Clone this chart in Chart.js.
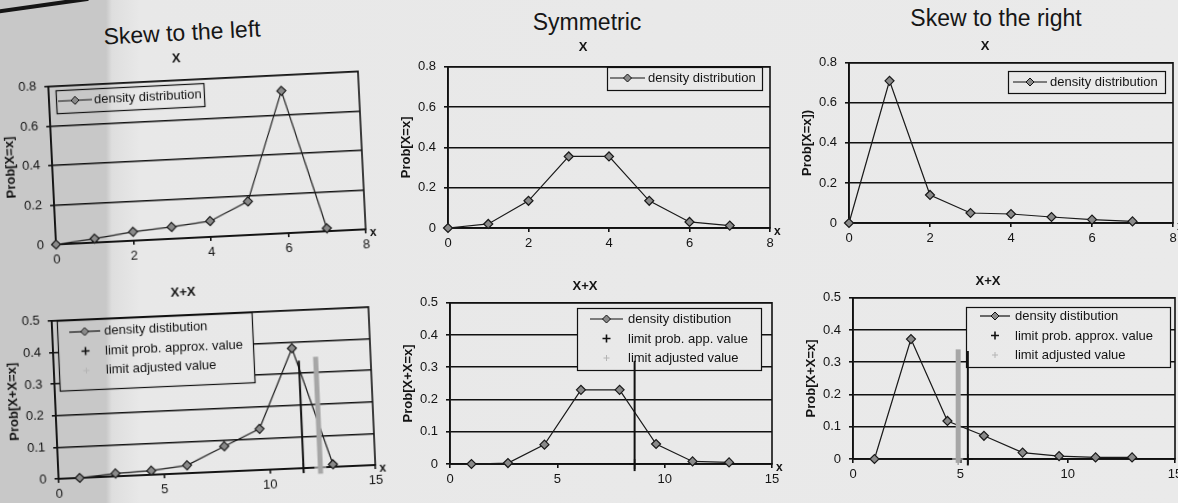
<!DOCTYPE html>
<html><head><meta charset="utf-8">
<script src="https://cdn.jsdelivr.net/npm/chart.js@4.4.1/dist/chart.umd.min.js"></script>
<style>
html,body{margin:0;padding:0;width:1178px;height:503px;overflow:hidden;}
body{position:relative;background:linear-gradient(to right,#c8c8c8 0px,#c8c8c8 106px,#dedede 112px,#e8e8e8 140px,#eaeaea 100%);font-family:"Liberation Sans",Arial,Helvetica,sans-serif;}
.title{position:absolute;font-size:23px;color:#161616;white-space:nowrap;}
.panel{position:absolute;}
.edge{position:absolute;left:-6px;top:10px;width:96px;height:4px;background:#151515;transform:rotate(-8deg);transform-origin:0 0;border-radius:2px;}
</style></head><body>
<div class="edge"></div>
<div class="title" style="left:182px;top:33px;transform:translate(-50%,-50%) rotate(-3deg)">Skew to the left</div>
<div class="title" style="left:587px;top:22px;transform:translate(-50%,-50%)">Symmetric</div>
<div class="title" style="left:996px;top:18px;transform:translate(-50%,-50%)">Skew to the right</div>
<div class="panel" id="p0"><canvas id="c0"></canvas></div>
<div class="panel" id="p1"><canvas id="c1"></canvas></div>
<div class="panel" id="p2"><canvas id="c2"></canvas></div>
<div class="panel" id="p3"><canvas id="c3"></canvas></div>
<div class="panel" id="p4"><canvas id="c4"></canvas></div>
<div class="panel" id="p5"><canvas id="c5"></canvas></div>
<script>
// ---------------- data ----------------
const xCounts = [0, 1, 2, 3, 4, 5, 6, 7];
const xSums   = [1, 2.7, 4.4, 6.1, 7.9, 9.6, 11.3, 13.0];

const probSkewLeft   = [0, 0.02, 0.045, 0.06, 0.08, 0.17, 0.72, 0.015];
const probSymmetric  = [0, 0.02, 0.135, 0.355, 0.355, 0.135, 0.03, 0.012];
const probSkewRight  = [0, 0.71, 0.14, 0.05, 0.045, 0.03, 0.017, 0.008];

const sumSkewLeft    = [0, 0.009, 0.013, 0.025, 0.08, 0.13, 0.38, 0.008];
const sumSymmetric   = [0, 0.003, 0.06, 0.23, 0.23, 0.062, 0.008, 0.005];
const sumSkewRight   = [0, 0.372, 0.118, 0.072, 0.02, 0.009, 0.005, 0.005];

// limit markers (left, symmetric, right panels of the X+X row)
const limitApproxX   = [11.6, 8.6, 5.35];
const limitApproxTop = [0.34, 0.32, 0.335];
const limitApproxLow = [-0.015, -0.022, -0.02];
const limitAdjX      = [12.4, null, 4.9];
const limitAdjTop    = [0.35, null, 0.34];
const limitAdjLow    = [-0.02, null, -0.012];

// axis ranges [min, max, step]
const topXAxis = [0, 8, 2];
const topYAxis = [0, 0.8, 0.2];
const sumXAxis = [0, 15, 5];
const sumYAxis = [0, 0.5, 0.1];

const rowTitles  = ['X', 'X+X'];
const yTitlesTop = ['Prob[X=x]', 'Prob[X=x]', 'Prob[X=x])'];
const yTitleSum  = 'Prob[X+X=x]';
const densityLabelTop = 'density distribution';
const densityLabelSum = 'density distibution';
const approxLabels = ['limit prob. approx. value', 'limit prob. app. value', 'limit prob. approx. value'];
const adjLabel = 'limit adjusted value';

// ---------------- styling / layout ----------------
Chart.defaults.font.family = '"Liberation Sans", Arial, Helvetica, sans-serif';
Chart.defaults.color = '#141414';
Chart.defaults.animation = false;
const INK = '#111111';
const GRID_W = 1.6;
const Y_W = 52, X_H = 26, PAD_R = 16;

const layoutRects = [
  {l: 52,  t: 79,  r: 362,  b: 237, gap: 21, rot: -2.8},
  {l: 448, t: 67,  r: 770,  b: 228, gap: 19, rot: 0},
  {l: 849, t: 63,  r: 1173, b: 223, gap: 16, rot: 0},
  {l: 55,  t: 314, r: 372,  b: 472, gap: 22, rot: -2.5},
  {l: 450, t: 303, r: 772,  b: 464, gap: 16, rot: 0},
  {l: 853, t: 298, r: 1175, b: 459, gap: 16, rot: 0}
];
const legendBoxes = [
  {x: 7,   y: 4, w: 148, h: 23, first: 11, row: 20,   sx: 2,  sw: 34, tx: 38},
  {x: 159, y: 0, w: 155, h: 23, first: 11, row: 20,   sx: 3,  sw: 35, tx: 41},
  {x: 159, y: 8, w: 157, h: 22, first: 11, row: 20,   sx: 5,  sw: 34, tx: 42},
  {x: 5,   y: 0, w: 195, h: 70, first: 12, row: 19.5, sx: 12, sw: 31, tx: 47},
  {x: 127, y: 5, w: 184, h: 62, first: 11, row: 19.5, sx: 13, sw: 33, tx: 51},
  {x: 113, y: 9, w: 204, h: 60, first: 9,  row: 19.5, sx: 14, sw: 30, tx: 49}
];

const panelPlugin = {
  id: 'panelPlugin',
  beforeDatasetsDraw(chart, args, opts) {
    const {ctx, chartArea: a} = chart;
    ctx.save();
    ctx.strokeStyle = INK; ctx.lineWidth = GRID_W;
    ctx.strokeRect(a.left, a.top, a.right - a.left, a.bottom - a.top);
    const b = opts.box;
    if (b) {
      const x0 = Math.round(a.left + b.x), y0 = Math.round(a.top + b.y);
      ctx.clearRect(x0, y0, b.w, b.h);
      ctx.lineWidth = 1.2;
      ctx.strokeRect(x0 + 0.5, y0 + 0.5, b.w, b.h);
      ctx.font = '13px "Liberation Sans", Arial, sans-serif';
      ctx.textBaseline = 'middle';
      ctx.textAlign = 'left';
      chart.data.datasets.forEach((ds, i) => {
        const cy = y0 + b.first + i * b.row;
        const sx0 = x0 + b.sx, sx1 = sx0 + b.sw, mx = (sx0 + sx1) / 2;
        if (i === 0) {
          ctx.strokeStyle = INK; ctx.lineWidth = 1.2;
          ctx.beginPath(); ctx.moveTo(sx0, cy); ctx.lineTo(sx1, cy); ctx.stroke();
          ctx.beginPath(); ctx.moveTo(mx, cy - 4); ctx.lineTo(mx + 4, cy); ctx.lineTo(mx, cy + 4); ctx.lineTo(mx - 4, cy); ctx.closePath();
          ctx.fillStyle = '#8a8a8a'; ctx.fill(); ctx.lineWidth = 1; ctx.stroke();
        } else {
          const arm = i === 1 ? 4 : 3;
          ctx.strokeStyle = i === 1 ? INK : '#b4b4b4';
          ctx.lineWidth = i === 1 ? 1.6 : 1;
          ctx.beginPath(); ctx.moveTo(mx - arm, cy); ctx.lineTo(mx + arm, cy);
          ctx.moveTo(mx, cy - arm); ctx.lineTo(mx, cy + arm); ctx.stroke();
        }
        ctx.fillStyle = '#141414';
        ctx.fillText(ds.label, x0 + b.tx, cy + 0.5);
      });
    }
    ctx.restore();
  },
  afterDraw(chart) {
    const {ctx, chartArea: a} = chart;
    ctx.save();
    ctx.font = 'bold 12px "Liberation Sans", Arial, sans-serif';
    ctx.fillStyle = '#141414';
    ctx.textBaseline = 'middle'; ctx.textAlign = 'left';
    ctx.fillText('x', a.right + 4, a.bottom + 4);
    ctx.restore();
  }
};

function scales(xa, ya, ytitle) {
  return {
    x: {
      type: 'linear', min: xa[0], max: xa[1],
      ticks: {stepSize: xa[2], font: {size: 13}, padding: 4, maxRotation: 0, color: '#141414'},
      grid: {drawOnChartArea: false, drawTicks: true, tickLength: 4, color: INK, lineWidth: GRID_W},
      border: {color: INK, width: GRID_W},
      afterFit: s => { s.height = X_H; }
    },
    y: {
      type: 'linear', min: ya[0], max: ya[1],
      ticks: {stepSize: ya[2], font: {size: 13}, padding: 8, color: '#141414'},
      grid: {color: INK, lineWidth: GRID_W, tickLength: 4},
      border: {color: INK, width: GRID_W},
      title: {display: true, text: ytitle, font: {size: 13, weight: 'bold'}, color: '#141414', padding: {top: 3, bottom: 0}},
      afterFit: s => { s.width = Y_W; }
    }
  };
}

function densitySet(label, xs, ys) {
  return {
    label, data: xs.map((x, i) => ({x, y: ys[i]})), showLine: true,
    borderColor: '#1a1a1a', borderWidth: 1.2, pointStyle: 'rectRot', pointRadius: 4.5,
    pointBackgroundColor: '#8a8a8a', pointBorderColor: '#1a1a1a', pointBorderWidth: 1.2, clip: false, order: 3
  };
}
function limitSet(label, x, low, top, color, width, markRadius, order) {
  return {
    label, data: x === null ? [] : [{x, y: low}, {x, y: 0}, {x, y: top}], showLine: true,
    borderColor: color, borderWidth: width, pointStyle: 'cross', pointRadius: [0, markRadius, 0],
    pointBorderColor: color, pointBorderWidth: 1.5, pointBackgroundColor: color, clip: false, order
  };
}

const panels = [
  {title: rowTitles[0], ytitle: yTitlesTop[0], xa: topXAxis, ya: topYAxis, sets: [densitySet(densityLabelTop, xCounts, probSkewLeft)]},
  {title: rowTitles[0], ytitle: yTitlesTop[1], xa: topXAxis, ya: topYAxis, sets: [densitySet(densityLabelTop, xCounts, probSymmetric)]},
  {title: rowTitles[0], ytitle: yTitlesTop[2], xa: topXAxis, ya: topYAxis, sets: [densitySet(densityLabelTop, xCounts, probSkewRight)]}
];
[sumSkewLeft, sumSymmetric, sumSkewRight].forEach((ys, k) => {
  panels.push({
    title: rowTitles[1], ytitle: yTitleSum, xa: sumXAxis, ya: sumYAxis,
    sets: [
      densitySet(densityLabelSum, xSums, ys),
      limitSet(approxLabels[k], limitApproxX[k], limitApproxLow[k], limitApproxTop[k], '#111111', 2, 5, 1),
      limitSet(adjLabel, limitAdjX[k], limitAdjLow[k], limitAdjTop[k], '#a6a6a6', 5, 6, 2)
    ]
  });
});

panels.forEach((p, i) => {
  const R = layoutRects[i];
  const pb = R.gap - 7.8, pt = 2;
  const topH = pt + 15.6 + pb;
  const W = Math.round(Y_W + (R.r - R.l) + PAD_R);
  const H = Math.round(topH + (R.b - R.t) + X_H);
  const div = document.getElementById('p' + i);
  div.style.left = (R.l - Y_W) + 'px';
  div.style.top = (R.t - topH) + 'px';
  div.style.width = W + 'px';
  div.style.height = H + 'px';
  if (R.rot) {
    div.style.transformOrigin = (Y_W + (R.r - R.l) / 2) + 'px ' + (topH + (R.b - R.t) / 2) + 'px';
    div.style.transform = 'rotate(' + R.rot + 'deg)';
  }
  const cv = document.getElementById('c' + i);
  cv.width = W; cv.height = H;
  cv.style.width = W + 'px'; cv.style.height = H + 'px';
  new Chart(cv, {
    type: 'scatter',
    data: {datasets: p.sets},
    options: {
      responsive: false, devicePixelRatio: 1, animation: false,
      layout: {padding: {left: 0, right: PAD_R, top: 0, bottom: 0}},
      plugins: {
        legend: {display: false},
        tooltip: {enabled: false},
        title: {display: true, text: p.title, font: {size: 13, weight: 'bold'}, color: '#141414', padding: {top: pt, bottom: pb}},
        panelPlugin: {box: legendBoxes[i]}
      },
      scales: scales(p.xa, p.ya, p.ytitle)
    },
    plugins: [panelPlugin]
  });
});
</script>
</body></html>
